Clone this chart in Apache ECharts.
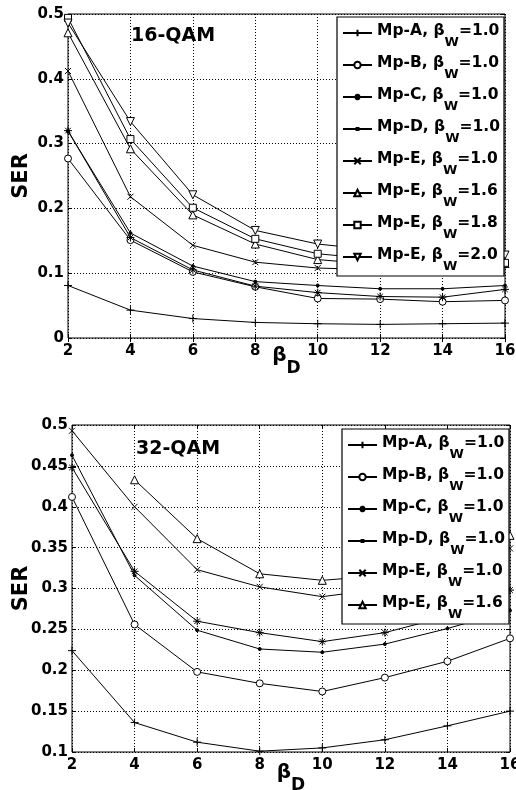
<!DOCTYPE html>
<html>
<head>
<meta charset="utf-8">
<script src="https://cdn.jsdelivr.net/npm/echarts@6/dist/echarts.min.js"></script>
<style>
  html, body { margin: 0; padding: 0; background: #fff; }
  #chart { width: 516px; height: 790px; }
</style>
</head>
<body>
<div id="chart"></div>
<script>
// Block length beta_D on the horizontal axis
const betaD = [2, 4, 6, 8, 10, 12, 14, 16];

// Series labels: mapping scheme and beta_W
const methods = ['Mp-A', 'Mp-B', 'Mp-C', 'Mp-D', 'Mp-E', 'Mp-E', 'Mp-E', 'Mp-E'];
const betaW = ['1.0', '1.0', '1.0', '1.0', '1.0', '1.6', '1.8', '2.0'];

// 16-QAM symbol error rate
const qam16MpA   = [0.081, 0.043, 0.030, 0.024, 0.022, 0.021, 0.022, 0.023];
const qam16MpB   = [0.277, 0.151, 0.102, 0.079, 0.061, 0.060, 0.056, 0.058];
const qam16MpC   = [0.320, 0.155, 0.105, 0.080, 0.070, 0.064, 0.063, 0.075];
const qam16MpD   = [0.319, 0.162, 0.111, 0.087, 0.081, 0.076, 0.076, 0.081];
const qam16MpE10 = [0.412, 0.218, 0.143, 0.117, 0.108, 0.105, 0.107, 0.113];
const qam16MpE16 = [0.471, 0.292, 0.190, 0.145, 0.121, 0.113, 0.111, 0.115];
const qam16MpE18 = [0.494, 0.307, 0.201, 0.153, 0.130, 0.121, 0.118, 0.116];
const qam16MpE20 = [0.486, 0.334, 0.221, 0.166, 0.145, 0.135, 0.129, 0.128];

// 32-QAM symbol error rate
const qam32MpA   = [0.224, 0.136, 0.112, 0.101, 0.105, 0.115, 0.132, 0.150];
const qam32MpB   = [0.412, 0.256, 0.198, 0.184, 0.174, 0.191, 0.211, 0.239];
const qam32MpC   = [0.448, 0.321, 0.260, 0.246, 0.235, 0.246, 0.266, 0.298];
const qam32MpD   = [0.463, 0.316, 0.249, 0.226, 0.222, 0.232, 0.251, 0.273];
const qam32MpE10 = [0.493, 0.400, 0.323, 0.302, 0.290, 0.300, 0.320, 0.349];
const qam32MpE16 = [null,  0.433, 0.361, 0.318, 0.310, 0.316, 0.335, 0.365];

// Axis ticks
const xTicks = { min: 2, max: 16, step: 2 };
const y16Ticks = { min: 0, max: 0.5, step: 0.1 };
const y32Ticks = { min: 0.1, max: 0.5, step: 0.05 };

const qam16 = [qam16MpA, qam16MpB, qam16MpC, qam16MpD, qam16MpE10, qam16MpE16, qam16MpE18, qam16MpE20];
const qam32 = [qam32MpA, qam32MpB, qam32MpC, qam32MpD, qam32MpE10, qam32MpE16];

const names = methods.map((m, i) => m + ', βW=' + betaW[i]);

// Marker shapes, one per series
const markers = [
  { symbol: 'path://M0,5L10,5M5,0L5,10', size: 8 },
  { symbol: 'circle', size: 7 },
  { symbol: 'path://M0,5L10,5M5,0L5,10M1.5,1.5L8.5,8.5M1.5,8.5L8.5,1.5', size: 8 },
  { symbol: 'circle', size: 3, fill: '#000',
    legendIcon: 'path://M0,1L31,1M14.5,0L16.5,0L16.5,2L14.5,2Z' },
  { symbol: 'path://M0,0L10,10M0,10L10,0', size: 6 },
  { symbol: 'triangle', size: 8 },
  { symbol: 'rect', size: 7 },
  { symbol: 'triangle', size: 8, rotate: 180 }
];

const FONT = 'DejaVu Sans';

function makeSeries(values, idx, gridIdx) {
  const mk = markers[idx];
  return {
    type: 'line',
    name: names[idx],
    xAxisIndex: gridIdx * 2,
    yAxisIndex: gridIdx * 2,
    data: betaD.map((x, k) => [x, values[k]]),
    symbol: mk.symbol,
    symbolSize: mk.size,
    symbolRotate: mk.rotate || 0,
    showAllSymbol: true,
    connectNulls: false,
    animation: false,
    lineStyle: { color: '#000', width: 1 },
    itemStyle: { color: mk.fill || '#fff', borderColor: '#000', borderWidth: 1 },
    emphasis: { disabled: true }
  };
}

function legendLabel(name) {
  const parts = name.split(', βW=');
  return '{t|' + parts[0] + ', β}{s|W}{t|=' + parts[1] + '}';
}

function legendData(count) {
  return names.slice(0, count).map((n, i) =>
    markers[i].legendIcon ? { name: n, icon: markers[i].legendIcon } : { name: n });
}

const legendText = {
  fontFamily: FONT,
  fontWeight: 'bold',
  color: '#000',
  rich: {
    t: { fontFamily: FONT, fontWeight: 'bold', fontSize: 15.5, lineHeight: 20, verticalAlign: 'top', color: '#000' },
    s: { fontFamily: FONT, fontWeight: 'bold', fontSize: 13, lineHeight: 14, verticalAlign: 'top', padding: [13, 0, 0, 0], color: '#000' }
  }
};

function xAxes(gridIdx, nameGap) {
  return [
    {
      gridIndex: gridIdx, type: 'value', position: 'bottom',
      min: xTicks.min, max: xTicks.max, interval: xTicks.step,
      name: '{b|β}{s|D}', nameLocation: 'middle', nameGap: nameGap, nameMoveOverlap: false,
      nameTextStyle: {
        rich: {
          b: { fontFamily: FONT, fontWeight: 'bold', fontSize: 20, lineHeight: 24, verticalAlign: 'top', color: '#000' },
          s: { fontFamily: FONT, fontWeight: 'bold', fontSize: 17, lineHeight: 17, verticalAlign: 'top', padding: [14, 0, 0, 0], color: '#000' }
        }
      },
      axisLine: { show: false },
      axisTick: { show: true, inside: true, length: 4, lineStyle: { color: '#000' } },
      axisLabel: { margin: 6, fontFamily: FONT, fontWeight: 'bold', fontSize: 15, color: '#000', showMinLabel: true, showMaxLabel: true },
      splitLine: { show: true, lineStyle: { color: '#000', width: 1, type: [1, 2] } }
    },
    {
      gridIndex: gridIdx, type: 'value', position: 'top',
      min: xTicks.min, max: xTicks.max, interval: xTicks.step,
      axisLine: { show: false },
      axisTick: { show: true, inside: true, length: 4, lineStyle: { color: '#000' } },
      axisLabel: { show: false },
      splitLine: { show: false }
    }
  ];
}

function yAxes(gridIdx, ticks, nameGap) {
  return [
    {
      gridIndex: gridIdx, type: 'value', position: 'left',
      min: ticks.min, max: ticks.max, interval: ticks.step,
      name: 'SER', nameLocation: 'middle', nameGap: nameGap, nameRotate: 90, nameMoveOverlap: false,
      nameTextStyle: { fontFamily: FONT, fontWeight: 'bold', fontSize: 21, color: '#000' },
      axisLine: { show: false },
      axisTick: { show: true, inside: true, length: 4, lineStyle: { color: '#000' } },
      axisLabel: {
        margin: 4, fontFamily: FONT, fontWeight: 'bold', fontSize: 15, color: '#000',
        showMinLabel: true, showMaxLabel: true,
        formatter: v => String(+v.toFixed(2))
      },
      splitLine: { show: true, lineStyle: { color: '#000', width: 1, type: [1, 2] } }
    },
    {
      gridIndex: gridIdx, type: 'value', position: 'right',
      min: ticks.min, max: ticks.max, interval: ticks.step,
      axisLine: { show: false },
      axisTick: { show: true, inside: true, length: 4, lineStyle: { color: '#000' } },
      axisLabel: { show: false },
      splitLine: { show: false }
    }
  ];
}

const gridBase = { show: true, borderColor: '#000', borderWidth: 1, backgroundColor: 'transparent', containLabel: false, outerBoundsMode: 'none' };

const legendBase = {
  orient: 'vertical',
  backgroundColor: '#fff',
  borderColor: '#000',
  borderWidth: 1.2,
  borderRadius: 0,
  itemWidth: 29,
  itemHeight: 8,
  itemGap: 6,
  padding: [6, 4, 3, 5],
  selectedMode: false,
  formatter: legendLabel,
  textStyle: legendText
};

const chart = echarts.init(document.getElementById('chart'), null, { renderer: 'canvas' });
chart.setOption({
  animation: false,
  backgroundColor: '#fff',
  title: [
    { text: '16-QAM', left: 131, top: 27, padding: 0, textStyle: { fontFamily: FONT, fontWeight: 'bold', fontSize: 19, color: '#000' } },
    { text: '32-QAM', left: 136, top: 440, padding: 0, textStyle: { fontFamily: FONT, fontWeight: 'bold', fontSize: 19, color: '#000' } }
  ],
  grid: [
    Object.assign({ left: 68, top: 14, width: 437, height: 324 }, gridBase),
    Object.assign({ left: 72, top: 425, width: 438, height: 327 }, gridBase)
  ],
  xAxis: xAxes(0, 8).concat(xAxes(1, 11)),
  yAxis: yAxes(0, y16Ticks, 36).concat(yAxes(1, y32Ticks, 40)),
  legend: [
    Object.assign({ left: 337, top: 17, data: legendData(8) }, legendBase),
    Object.assign({ left: 342, top: 429, data: legendData(6) }, legendBase)
  ],
  series: qam16.map((v, i) => makeSeries(v, i, 0))
    .concat(qam32.map((v, i) => makeSeries(v, i, 1)))
});
</script>
</body>
</html>
